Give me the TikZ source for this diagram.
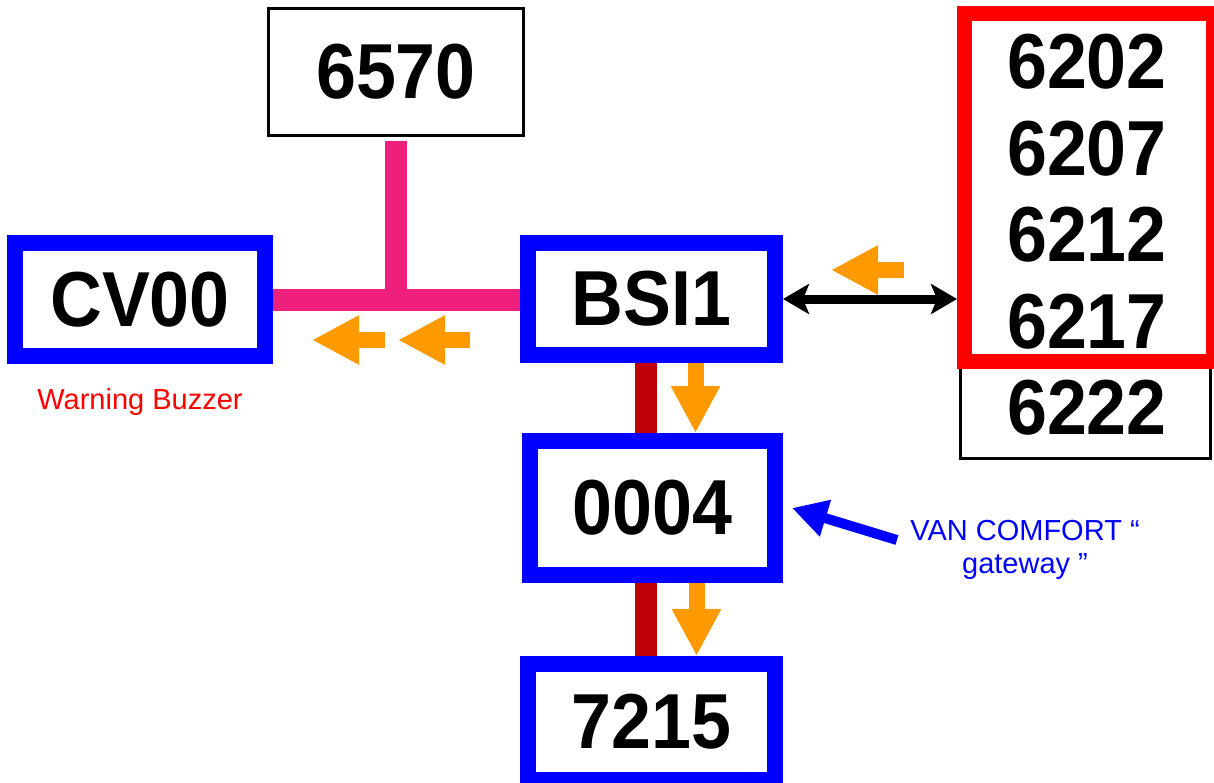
\documentclass[tikz,border=0pt]{standalone}
\usepackage{fontspec}
\setmainfont{Liberation Sans}
\newfontfamily\boxfont{Liberation Sans}[FakeStretch=0.92]
\usetikzlibrary{positioning, arrows.meta}
\definecolor{vanblue}{RGB}{0,0,255}
\definecolor{buspink}{RGB}{238,32,124}
\definecolor{trunkred}{RGB}{190,0,8}
\definecolor{floworange}{RGB}{255,153,0}

\begin{document}
\begin{tikzpicture}[x=0.5pt, y=-0.5pt,
      ecu/.style={draw=vanblue, line width=8pt, fill=white, inner sep=0pt,
                  font=\boxfont\bfseries\fontsize{39}{44}\selectfont},
      plain/.style={draw=black, line width=1.5pt, fill=white, inner sep=0pt,
                  font=\boxfont\bfseries\fontsize{39}{44}\selectfont},
      code/.style={inner sep=0pt, font=\boxfont\bfseries\fontsize{39}{44}\selectfont},
      group/.style={draw=red, line width=7.5pt, inner sep=0pt},
      note/.style={inner sep=0pt, font=\fontsize{14.5}{16.5}\selectfont},
      bus/.style={draw=buspink, line width=11pt},
      trunk/.style={draw=trunkred, line width=11pt},
      flow/.style={draw=floworange, line width=8pt, -{Triangle[length=23.5pt, width=23pt]}},
      link/.style={draw=black, line width=4.5pt,
                  {Stealth[length=13pt, width=15pt, inset=3pt]}-{Stealth[length=13pt, width=15pt, inset=3pt]}},
      pointer/.style={draw=vanblue, line width=5pt, -{Triangle[length=17.5pt, width=18pt]}},
   ]
   \useasboundingbox (0,0) rectangle (1214,782);

   % modules on the bus
   \node[plain, minimum width=127.5pt, minimum height=63.5pt] (n6570) at (396,72) {6570};
   \node[ecu, minimum width=125pt, minimum height=56.5pt] (cv) at (140,299.5) {CV00};
   \node[ecu, minimum width=123.5pt, minimum height=56pt] (bsi) at (651.5,299) {BSI1};
   \node[ecu, minimum width=122.5pt, minimum height=67pt] (gw) at (652.5,508) {0004};
   \node[ecu, minimum width=123.5pt, minimum height=58pt] (tel) at (651.5,722) {7215};
   \node[note, text=red, below=12pt of cv] (buzz) {Warning Buzzer};
   \node[note, text=vanblue, align=center] (van) at (1025,550) {VAN COMFORT “\\ gateway ”};

   % column of codes
   \node[draw=black, line width=1.5pt, minimum width=125pt, minimum height=223pt] (col) at (1085.5,235) {};
   \foreach \c [count=\i] in {6202,6207,6212,6217,6222}
      \node[code] (n\c) at (1087,{62+86.5*(\i-1)}) {\c};
   \node[group, minimum width=124.5pt, minimum height=174pt] (sel) at (1089,187.5) {};

   % buses
   \draw[bus] (cv.east) -- (cv.east -| bsi.west);
   \draw[bus] ([yshift=-2pt]n6570.south) -- (n6570.south |- cv.east);
   \coordinate (trk) at ([xshift=-2.75pt]bsi.south);
   \draw[trunk] (trk) -- (trk |- gw.north);
   \draw[trunk] (trk |- gw.south) -- (trk |- tel.north);
   \draw[link] (bsi.east) -- (bsi.east -| sel.west);
   \draw[pointer] ([xshift=-6.5pt, yshift=5pt]van.west) -- ([xshift=4.5pt]gw.east);

   % data direction
   \coordinate (d1) at ([xshift=22pt]bsi.south);
   \coordinate (d2) at ([xshift=22pt]gw.south);
   \draw[flow] (d1) -- (d1 |- gw.north);
   \draw[flow] (d2) -- (d2 |- tel.north);
   \coordinate (l1s) at (385,340);
   \coordinate (l1e) at (312,340);
   \coordinate (l2s) at (470,340);
   \coordinate (l2e) at (398,340);
   \coordinate (r1s) at (904,270);
   \coordinate (r1e) at (831,270);
   \draw[flow] (l1s) -- (l1e);
   \draw[flow] (l2s) -- (l2e);
   \draw[flow] (r1s) -- (r1e);
\end{tikzpicture}
\end{document}
